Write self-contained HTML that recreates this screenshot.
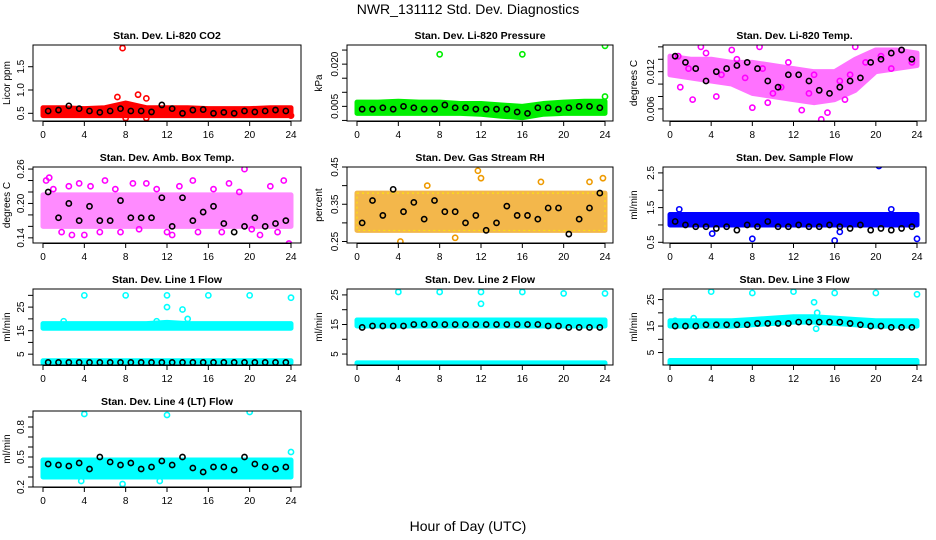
<!DOCTYPE html>
<html><head><meta charset="utf-8"><style>
html,body{margin:0;padding:0;background:#fff}
svg{display:block;font-family:"Liberation Sans",sans-serif}
</style></head><body>
<svg id="c" width="936" height="540" viewBox="0 0 936 540" xmlns="http://www.w3.org/2000/svg">
<text x="468" y="14" text-anchor="middle" font-size="14">NWR_131112 Std. Dev. Diagnostics</text>
<text x="468" y="531" text-anchor="middle" font-size="14">Hour of Day (UTC)</text>
</svg>
<script>
// ---- data ----
const hourTicks = [0,4,8,12,16,20,24];
const blackHours = [0.5,1.5,2.5,3.5,4.5,5.5,6.5,7.5,8.5,9.5,10.5,11.5,12.5,13.5,14.5,15.5,16.5,17.5,18.5,19.5,20.5,21.5,22.5,23.5];
const bandHours = [0,2,4,6,8,10,12,14,16,18,20,22,24];

const co2Lo = [0.45,0.45,0.45,0.45,0.45,0.45,0.45,0.45,0.45,0.45,0.45,0.45,0.45];
const co2Hi = [0.62,0.62,0.6,0.62,0.72,0.62,0.62,0.62,0.6,0.6,0.6,0.62,0.62];
const co2Black = [0.55,0.57,0.66,0.6,0.55,0.52,0.55,0.6,0.55,0.55,0.53,0.68,0.6,0.5,0.57,0.58,0.5,0.52,0.5,0.55,0.53,0.55,0.57,0.55];
const co2OutX = [7.7,7.2,9.2,10,10,8,24];
const co2OutY = [1.9,0.85,0.9,0.82,0.4,0.4,0.45];

const presLo = [0.0025,0.0025,0.0025,0.0025,0.0025,0.0025,0.0022,0.0015,0.001,0.0022,0.0025,0.0025,0.0025];
const presHi = [0.0065,0.0065,0.0068,0.0065,0.0065,0.006,0.006,0.0055,0.005,0.006,0.0065,0.0068,0.0068];
const presBlack = [0.004,0.004,0.0045,0.004,0.005,0.0045,0.004,0.004,0.0055,0.0045,0.0045,0.004,0.004,0.004,0.004,0.003,0.0025,0.0045,0.0045,0.004,0.0045,0.005,0.005,0.0045];
const presOutX = [8,16,24,24];
const presOutY = [0.0235,0.0235,0.0265,0.0085];

const ltLo = [0.0115,0.011,0.0105,0.01,0.0085,0.008,0.0075,0.007,0.0075,0.009,0.012,0.0125,0.013];
const ltHi = [0.0145,0.014,0.014,0.0135,0.0135,0.013,0.0125,0.012,0.012,0.014,0.0155,0.0155,0.015];
const ltBlack = [0.0145,0.0135,0.0125,0.0105,0.012,0.0125,0.013,0.0135,0.0125,0.0105,0.0095,0.0115,0.0115,0.0105,0.009,0.0085,0.0095,0.0105,0.011,0.0135,0.014,0.015,0.0155,0.014];
const ltOutX = [2.2,4.5,8,9.5,12.8,14.7,15.3,3,8.7,18,1,6,10,17,0.8,1.8,3.5,5,6.5,7.3,9,10.8,11.5,13.5,14,16.5,17.5,19,20.5,21.5,22.5,23.5];
const ltOutY = [0.0075,0.008,0.0062,0.007,0.0058,0.0043,0.0054,0.016,0.016,0.016,0.0095,0.0155,0.0085,0.0075,0.0145,0.0125,0.015,0.0115,0.014,0.011,0.0125,0.0095,0.0135,0.0085,0.0115,0.0105,0.0115,0.0135,0.0145,0.0125,0.0155,0.0135];

const abLo = [0.16,0.16,0.16,0.16,0.16,0.16,0.16,0.16,0.16,0.16,0.16,0.16,0.16];
const abHi = [0.215,0.215,0.215,0.215,0.215,0.215,0.215,0.215,0.215,0.215,0.215,0.215,0.215];
const abBlack = [0.22,0.175,0.2,0.17,0.195,0.17,0.17,0.205,0.175,0.175,0.175,0.21,0.16,0.21,0.17,0.185,0.195,0.165,0.15,0.16,0.175,0.16,0.165,0.17];
const abOutX = [0.3,0.6,3.5,19.5,23.3,23.8,2.8,12.5,18,4,6,10,14.5,21,1,1.8,2.5,4.6,5.5,7,7.5,8.7,9.3,11,12,13.2,15,16.5,17.3,19,20.2,22,22.7];
const abOutY = [0.24,0.245,0.235,0.26,0.24,0.13,0.145,0.145,0.235,0.145,0.24,0.235,0.24,0.145,0.225,0.15,0.23,0.23,0.15,0.225,0.15,0.235,0.155,0.225,0.15,0.23,0.15,0.225,0.15,0.22,0.155,0.23,0.15];

const rhLo = [0.28,0.28,0.28,0.28,0.28,0.28,0.28,0.28,0.28,0.28,0.28,0.28,0.28];
const rhHi = [0.38,0.38,0.38,0.38,0.38,0.38,0.38,0.38,0.38,0.38,0.38,0.38,0.38];
const rhBlack = [0.3,0.36,0.32,0.39,0.33,0.355,0.31,0.36,0.33,0.33,0.3,0.32,0.28,0.3,0.345,0.32,0.32,0.31,0.34,0.34,0.27,0.31,0.34,0.38];
const rhOutX = [11.7,12,4.2,9.5,23.8,22.5,17.8,6.8];
const rhOutY = [0.44,0.42,0.25,0.26,0.42,0.41,0.41,0.4];

const sfLo = [1.0,1.0,1.0,1.0,1.0,1.0,1.0,1.0,1.0,1.0,1.0,1.0,1.0];
const sfHi = [1.3,1.3,1.3,1.3,1.3,1.3,1.3,1.3,1.3,1.3,1.3,1.3,1.3];
const sfBlack = [1.1,1.0,0.95,0.95,0.9,0.95,0.85,1.0,0.95,1.1,0.95,0.95,1.0,0.95,0.95,1.0,0.95,0.9,1.0,0.85,0.9,0.85,0.9,0.95];
const sfOutX = [20.3,21.5,0.9,8,16,24,4.1,16.5];
const sfOutY = [2.7,1.45,1.45,0.6,0.55,0.6,0.75,0.8];

const l1Lo = [16,16,16,16,16,16,16,16,16,16,16,16,16];
const l1Hi = [18,18,18,18,18,18,18.5,18,18,18,18,18,18];
const l1LowLo = [1.3,1.3,1.3,1.3,1.3,1.3,1.3,1.3,1.3,1.3,1.3,1.3,1.3];
const l1LowHi = [2.2,2.2,2.2,2.2,2.2,2.2,2.2,2.2,2.2,2.2,2.2,2.2,2.2];
const l1Black = [1.5,1.5,1.5,1.5,1.5,1.5,1.5,1.5,1.5,1.5,1.5,1.5,1.5,1.5,1.5,1.5,1.5,1.5,1.5,1.5,1.5,1.5,1.5,1.5];
const l1OutX = [4,8,12,16,20,24,12,13.5,2,11,14];
const l1OutY = [30,30,30,30,30,29,25,24,19,19,20];

const l2Lo = [14.5,14.5,14.5,14.5,14.5,14.5,14.5,14.5,14.5,14.5,14.5,14.5,14.5];
const l2Hi = [16.5,16.5,16.5,16.5,16.5,16.5,16.5,16.5,16.5,16.5,16.5,16.5,16.5];
const l2LowLo = [0.5,0.5,0.5,0.5,0.5,0.5,0.5,0.5,0.5,0.5,0.5,0.5,0.5];
const l2LowHi = [2,2,2,2,2,2,2,2,2,2,2,2,2];
const l2Black = [14,14.5,14.5,14.5,14.5,15,15,15,15,15,15,15,15,15,15,15,15,15,14.5,14.5,14,14,14,14];
const l2OutX = [4,8,12,16,20,24,12];
const l2OutY = [26,26,26,26,25.5,25.5,22];

const l3Lo = [15,15,15,15,15.5,16,16.5,16.5,16,15.5,15,15,15];
const l3Hi = [17,17,17,17,17.5,18,18.5,18.5,18,17.5,17,17,17];
const l3LowLo = [0.3,0.3,0.3,0.3,0.3,0.3,0.3,0.3,0.3,0.3,0.3,0.3,0.3];
const l3LowHi = [2,2,2,2,2,2,2,2,2,2,2,2,2];
const l3Black = [15,15,15,15.5,15.5,15.5,15.5,15.5,16,16,16,16,16.5,16.5,16.5,16.5,16.5,16,15.5,15,15,14.5,14.5,14.5];
const l3OutX = [4,8,12,16,20,24,14,14.3,14.2,2.3,0.5];
const l3OutY = [28,27.5,28,27.5,27.5,27,24,20,14,18,17];

const l4Lo = [0.3,0.3,0.3,0.3,0.3,0.3,0.3,0.3,0.3,0.3,0.3,0.3,0.3];
const l4Hi = [0.47,0.47,0.47,0.47,0.47,0.47,0.47,0.47,0.47,0.47,0.47,0.47,0.47];
const l4Black = [0.43,0.42,0.41,0.44,0.38,0.5,0.45,0.42,0.44,0.38,0.4,0.46,0.42,0.5,0.39,0.35,0.4,0.4,0.37,0.5,0.43,0.4,0.38,0.4];
const l4OutX = [4,12,20,24,7.7,11.3,3.7];
const l4OutY = [0.93,0.92,0.95,0.55,0.23,0.26,0.26];

// ---- layout ----
const cols = [{l:33,r:301,x0:43,x1:291,yl:10},{l:347,r:613,x0:357,x1:605,yl:322},{l:663,r:926,x0:670,x1:917,yl:637}];
const rows = [45,167,289,411];
const H = 76;

const panels = [
 {name:'co2',title:'Stan. Dev. Li-820 CO2',ylab:'Licor ppm',c:0,r:0,ymin:0.335,ymax:1.966,ticks:[0.5,1.0,1.5],labels:['0.5','1.0','1.5'],col:'#ff0000',lo:co2Lo,hi:co2Hi,blk:co2Black,ox:co2OutX,oy:co2OutY},
 {name:'pressure',title:'Stan. Dev. Li-820 Pressure',ylab:'kPa',c:1,r:0,ymin:-0.0002,ymax:0.0268,ticks:[0,0.005,0.01,0.015,0.02,0.025],labels:['0.005','0.020'],labVals:[0.005,0.02],col:'#00ee00',lo:presLo,hi:presHi,blk:presBlack,ox:presOutX,oy:presOutY},
 {name:'li820-temp',title:'Stan. Dev. Li-820 Temp.',ylab:'degrees C',c:2,r:0,ymin:0.00405,ymax:0.0163,ticks:[0.006,0.008,0.01,0.012,0.014,0.016],labels:['0.006','0.012'],labVals:[0.006,0.012],col:'#ff00ff',lo:ltLo,hi:ltHi,blk:ltBlack,ox:ltOutX,oy:ltOutY,sparse:0.55},
 {name:'amb-box-temp',title:'Stan. Dev. Amb. Box Temp.',ylab:'degrees C',c:0,r:1,ymin:0.131,ymax:0.2636,ticks:[0.14,0.16,0.18,0.2,0.22,0.24,0.26],labels:['0.14','0.20','0.26'],labVals:[0.14,0.2,0.26],col:'#ff00ff',lo:abLo,hi:abHi,blk:abBlack,ox:abOutX,oy:abOutY,sparse:0.45},
 {name:'gas-stream-rh',title:'Stan. Dev. Gas Stream RH',ylab:'percent',c:1,r:1,ymin:0.246,ymax:0.45,ticks:[0.25,0.3,0.35,0.4,0.45],labels:['0.25','0.35','0.45'],labVals:[0.25,0.35,0.45],col:'#ee9a00',col2:'#ffee00',lo:rhLo,hi:rhHi,blk:rhBlack,ox:rhOutX,oy:rhOutY,sparse:0.7},
 {name:'sample-flow',title:'Stan. Dev. Sample Flow',ylab:'ml/min',c:2,r:1,ymin:0.48,ymax:2.67,ticks:[0.5,1,1.5,2,2.5],labels:['0.5','1.5','2.5'],labVals:[0.5,1.5,2.5],col:'#0000ff',lo:sfLo,hi:sfHi,blk:sfBlack,ox:sfOutX,oy:sfOutY},
 {name:'line1-flow',title:'Stan. Dev. Line 1 Flow',ylab:'ml/min',c:0,r:2,ymin:0.4,ymax:32.7,ticks:[5,10,15,20,25,30],labels:['5','15','25'],labVals:[5,15,25],col:'#00ffff',lo:l1Lo,hi:l1Hi,lo2:l1LowLo,hi2:l1LowHi,blk:l1Black,ox:l1OutX,oy:l1OutY},
 {name:'line2-flow',title:'Stan. Dev. Line 2 Flow',ylab:'ml/min',c:1,r:2,ymin:1.3,ymax:27,ticks:[5,10,15,20,25],labels:['5','15','25'],labVals:[5,15,25],col:'#00ffff',lo:l2Lo,hi:l2Hi,lo2:l2LowLo,hi2:l2LowHi,blk:l2Black,ox:l2OutX,oy:l2OutY},
 {name:'line3-flow',title:'Stan. Dev. Line 3 Flow',ylab:'ml/min',c:2,r:2,ymin:0.3,ymax:29,ticks:[5,10,15,20,25],labels:['5','15','25'],labVals:[5,15,25],col:'#00ffff',lo:l3Lo,hi:l3Hi,lo2:l3LowLo,hi2:l3LowHi,blk:l3Black,ox:l3OutX,oy:l3OutY},
 {name:'line4-flow',title:'Stan. Dev. Line 4 (LT) Flow',ylab:'ml/min',c:0,r:3,ymin:0.2,ymax:0.96,ticks:[0.2,0.3,0.4,0.5,0.6,0.7,0.8,0.9],labels:['0.2','0.5','0.8'],labVals:[0.2,0.5,0.8],col:'#00ffff',lo:l4Lo,hi:l4Hi,blk:l4Black,ox:l4OutX,oy:l4OutY}
];

const NS='http://www.w3.org/2000/svg';
const svg=document.getElementById('c');
function mk(tag,attrs,parent){const e=document.createElementNS(NS,tag);for(const k in attrs)e.setAttribute(k,attrs[k]);(parent||svg).appendChild(e);return e;}

panels.forEach(p=>{
  const C=cols[p.c], top=rows[p.r], bot=top+H;
  const g=mk('g',{});
  
  
  const xs=h=>C.x0+(C.x1-C.x0)*h/24;
  const ys=v=>bot-(v-p.ymin)/(p.ymax-p.ymin)*H;
  const clip='clip-'+p.name;
  const cp=mk('clipPath',{id:clip},g);mk('rect',{x:C.l,y:top,width:C.r-C.l,height:H},cp);
  const pg=mk('g',{'clip-path':'url(#'+clip+')'},g);
  function band(lo,hi,name){
    let pts=[];
    bandHours.forEach((h,i)=>pts.push(xs(h)+','+ys(hi[i])));
    for(let i=bandHours.length-1;i>=0;i--)pts.push(xs(bandHours[i])+','+ys(lo[i]));
    const b=mk('polygon',{points:pts.join(' '),fill:p.col,stroke:p.col,'stroke-width':5,'stroke-linejoin':'round',opacity:p.sparse||1},pg);
    
    
    if(p.col2){
      const b2=mk('polygon',{points:pts.join(' '),fill:'none',stroke:p.col2,'stroke-width':1,'stroke-dasharray':'2 3'},pg);
      
      
    }
  }
  band(p.lo,p.hi,'spread-band');
  if(p.lo2) band(p.lo2,p.hi2,'low-spread-band');
  p.ox.forEach((h,i)=>{
    const c=mk('circle',{cx:xs(h),cy:ys(p.oy[i]),r:2.6,fill:'none',stroke:p.col,'stroke-width':1.6},pg);
    
    
  });
  p.blk.forEach((v,i)=>{
    const c=mk('circle',{cx:xs(blackHours[i]),cy:ys(v),r:2.6,fill:'none',stroke:'#000','stroke-width':1.6},pg);
    
    
  });
  const box=mk('rect',{x:C.l,y:top,width:C.r-C.l,height:H,fill:'none',stroke:'#000','stroke-width':1},g);
  
  
  hourTicks.forEach(h=>{
    mk('line',{x1:xs(h),x2:xs(h),y1:bot,y2:bot+5,stroke:'#000'},g);
    const t=mk('text',{x:xs(h),y:bot+17,'text-anchor':'middle','font-size':10},g);
    t.textContent=h;
    
    
  });
  mk('line',{x1:xs(0),x2:xs(24),y1:bot+0.5,y2:bot+0.5,stroke:'#000'},g);
  p.ticks.forEach(v=>{mk('line',{x1:C.l-5,x2:C.l,y1:ys(v),y2:ys(v),stroke:'#000'},g);});
  const lv=p.labVals||p.ticks;
  p.labels.forEach((s,i)=>{
    const y=ys(lv[i]);
    const t=mk('text',{x:C.l-9,y:y,'text-anchor':'middle','font-size':10,transform:'rotate(-90 '+(C.l-9)+' '+y+')'},g);
    t.textContent=s;
    
    
  });
  const ym=(top+bot)/2;
  const yl=mk('text',{x:C.yl,y:ym,'text-anchor':'middle','font-size':10,transform:'rotate(-90 '+C.yl+' '+ym+')'},g);
  yl.textContent=p.ylab;
  
  
  const tt=mk('text',{x:(C.l+C.r)/2,y:top-6,'text-anchor':'middle','font-size':10.5,'font-weight':'bold'},g);
  tt.textContent=p.title;
  
  
});
</script>
</body></html>
